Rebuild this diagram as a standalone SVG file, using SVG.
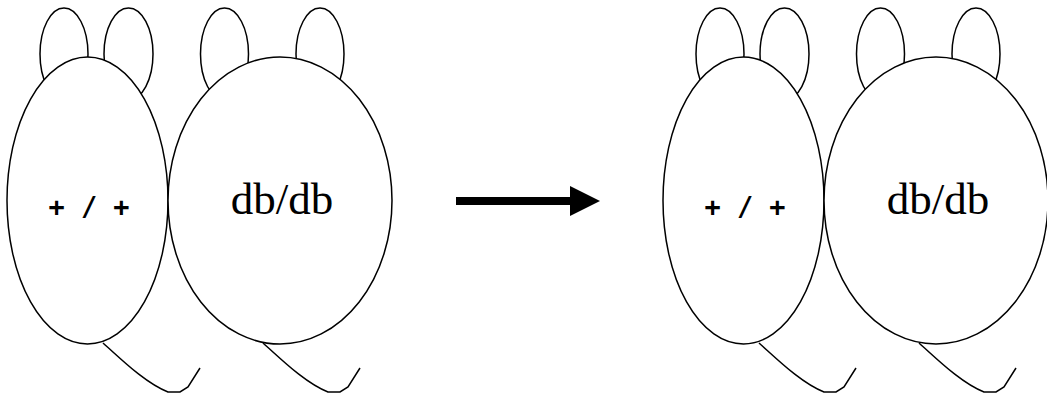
<svg xmlns="http://www.w3.org/2000/svg" width="1047" height="396" viewBox="0 0 1047 396">
<style>
.o{fill:#fff;stroke:#000;stroke-width:1.5}
.t{fill:none;stroke:#000;stroke-width:1.5}
.mono{font-family:"DejaVu Sans Mono",monospace;font-size:27px;font-weight:bold;fill:#000}
.serif{font-family:"Liberation Serif","Times New Roman",serif;font-size:45px;fill:#000}
</style>
<rect width="1047" height="396" fill="#fff"/>
<g id="wt-left">
<path class="t" d="M103,343 C120,358 145,383 168,392 L180,392 L188,387 L200,368"/>
<ellipse class="o" cx="64" cy="54" rx="24" ry="46"/>
<ellipse class="o" cx="128.5" cy="54" rx="24.5" ry="46"/>
<ellipse class="o" cx="87.5" cy="200.5" rx="80.5" ry="143.5"/>
<text class="mono" x="89" y="216" text-anchor="middle" textLength="81" lengthAdjust="spacingAndGlyphs">+ / +</text>
</g>
<g id="db-left">
<path class="t" d="M263,343 C280,358 305,383 328,392 L340,392 L348,387 L360,368"/>
<ellipse class="o" cx="224.5" cy="54" rx="24" ry="46"/>
<ellipse class="o" cx="320" cy="54" rx="24" ry="46"/>
<ellipse class="o" cx="280" cy="200.5" rx="112" ry="143.5"/>
<text class="serif" x="282" y="214" text-anchor="middle">db/db</text>
</g>
<g id="connectors">
<line x1="456" y1="201" x2="571" y2="201" stroke="#000" stroke-width="8"/>
<polygon points="570,186 600,201 570,216" fill="#000"/>
</g>
<g id="wt-right" transform="translate(656,0)">
<path class="t" d="M103,343 C120,358 145,383 168,392 L180,392 L188,387 L200,368"/>
<ellipse class="o" cx="64" cy="54" rx="24" ry="46"/>
<ellipse class="o" cx="128.5" cy="54" rx="24.5" ry="46"/>
<ellipse class="o" cx="87.5" cy="200.5" rx="80.5" ry="143.5"/>
<text class="mono" x="89" y="216" text-anchor="middle" textLength="81" lengthAdjust="spacingAndGlyphs">+ / +</text>
</g>
<g id="db-right" transform="translate(656,0)">
<path class="t" d="M263,343 C280,358 305,383 328,392 L340,392 L348,387 L360,368"/>
<ellipse class="o" cx="224.5" cy="54" rx="24" ry="46"/>
<ellipse class="o" cx="320" cy="54" rx="24" ry="46"/>
<ellipse class="o" cx="280" cy="200.5" rx="112" ry="143.5"/>
<text class="serif" x="282" y="214" text-anchor="middle">db/db</text>
</g>
</svg>
